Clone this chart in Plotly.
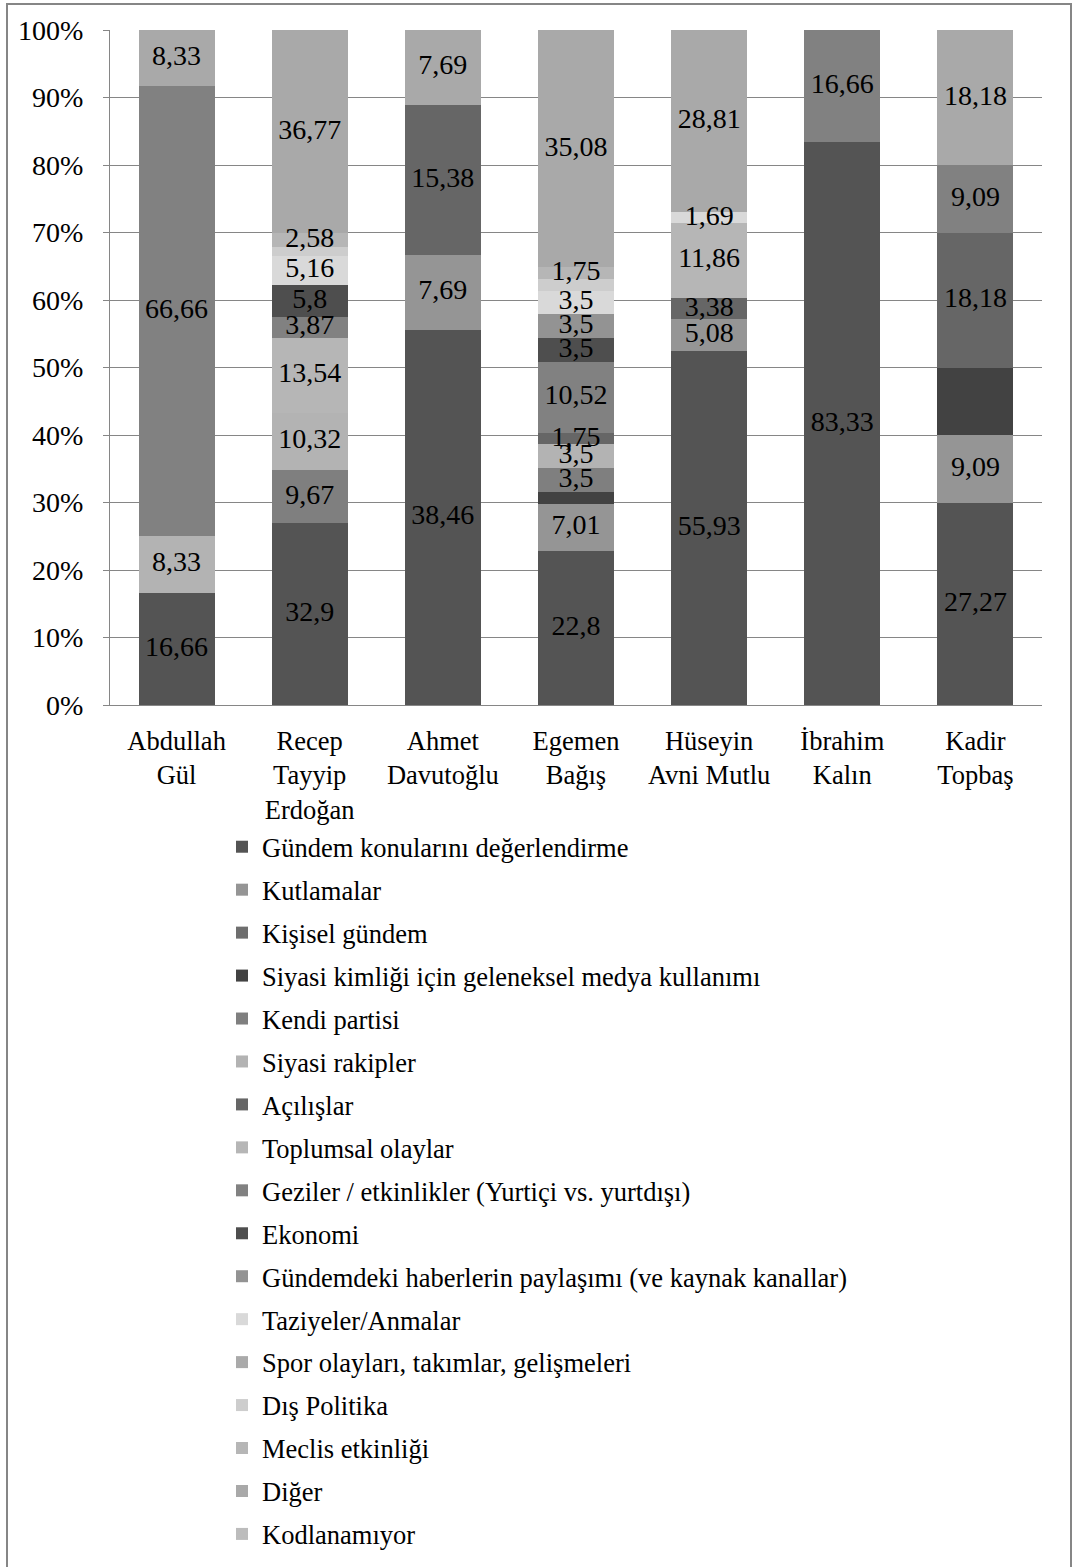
import plotly.graph_objects as go

categories = ["Abdullah<br>Gül", "Recep<br>Tayyip<br>Erdoğan", "Ahmet<br>Davutoğlu",
              "Egemen<br>Bağış", "Hüseyin<br>Avni Mutlu", "İbrahim<br>Kalın", "Kadir<br>Topbaş"]

series_names = [
    "Gündem konularını değerlendirme",
    "Kutlamalar",
    "Kişisel gündem",
    "Siyasi kimliği için geleneksel medya kullanımı",
    "Kendi partisi",
    "Siyasi rakipler",
    "Açılışlar",
    "Toplumsal olaylar",
    "Geziler / etkinlikler (Yurtiçi vs. yurtdışı)",
    "Ekonomi",
    "Gündemdeki haberlerin paylaşımı (ve kaynak kanallar)",
    "Taziyeler/Anmalar",
    "Spor olayları, takımlar, gelişmeleri",
    "Dış Politika",
    "Meclis etkinliği",
    "Diğer",
    "Kodlanamıyor",
]

gundem = [16.66, 32.9, 38.46, 22.8, 55.93, 83.33, 27.27]
kutlamalar = [0, 0, 7.69, 7.01, 5.08, 0, 9.09]
kisisel = [0, 0, 0, 0, 0, 0, 0]
siyasi_kimlik = [0, 0, 0, 1.75, 0, 0, 9.09]
kendi_partisi = [0, 9.67, 0, 3.5, 0, 0, 0]
siyasi_rakipler = [8.33, 10.32, 0, 3.5, 0, 0, 0]
acilislar = [0, 0, 15.38, 1.75, 3.38, 0, 18.18]
toplumsal = [0, 13.54, 0, 0, 11.86, 0, 0]
geziler = [66.66, 3.87, 0, 10.52, 0, 16.66, 9.09]
ekonomi = [0, 5.8, 0, 3.5, 0, 0, 0]
haberler = [0, 0, 0, 3.5, 0, 0, 0]
taziyeler = [0, 5.16, 0, 3.5, 1.69, 0, 0]
spor = [0, 0, 0, 0, 0, 0, 0]
dis_politika = [0, 1.6, 0, 1.75, 0, 0, 0]
meclis = [0, 2.58, 0, 1.75, 0, 0, 0]
diger = [8.33, 36.77, 7.69, 35.08, 28.81, 0, 18.18]
kodlanamiyor = [0, 0, 0, 0, 0, 0, 0]

series_values = [gundem, kutlamalar, kisisel, siyasi_kimlik, kendi_partisi, siyasi_rakipler,
                 acilislar, toplumsal, geziler, ekonomi, haberler, taziyeler, spor,
                 dis_politika, meclis, diger, kodlanamiyor]

colors = ["#545454", "#959595", "#6e6e6e", "#424242", "#7f7f7f", "#b3b3b3", "#666666",
          "#b6b6b6", "#818181", "#4e4e4e", "#939393", "#d9d9d9", "#aaaaaa", "#cdcdcd",
          "#b6b6b6", "#a9a9a9", "#bcbcbc"]

show_labels = [True, True, True, False, True, True, True, True, True, True, True, True,
               True, False, True, True, True]

FONT = "Liberation Serif"
FS_NUM = 28
FS_TXT = 26.5

fig = go.Figure()
for name, vals, col in zip(series_names, series_values, colors):
    yv = [v if v > 0 else None for v in vals]
    fig.add_trace(go.Bar(
        x=categories, y=yv, name=name, marker=dict(color=col, line=dict(width=0)),
        legendgroup=name, hoverinfo="skip",
    ))

# data labels, placed at the middle of each normalised stacked segment
totals = [sum(s[i] for s in series_values) for i in range(len(categories))]
cum = [0.0] * len(categories)
lx, ly, lt = [], [], []
for vals, lab in zip(series_values, show_labels):
    for i, v in enumerate(vals):
        if v > 0:
            if lab:
                lx.append(categories[i])
                ly.append((cum[i] + v / 2) / totals[i] * 100)
                lt.append(str(v).replace(".", ","))
            cum[i] += v

fig.add_trace(go.Scatter(
    x=lx, y=ly, text=lt, mode="text", textposition="middle center",
    textfont=dict(family=FONT, size=FS_NUM, color="black"),
    showlegend=False, hoverinfo="skip", cliponaxis=False,
))

W, H = 1075, 1567
L, R, T, B = 110, 1042, 30, 705
pw, ph = R - L, B - T

def px(x):
    return (x - L) / pw

def py(y):
    return (B - y) / ph

fig.update_layout(
    width=W, height=H,
    margin=dict(l=L, r=W - R, t=T, b=H - B, autoexpand=False),
    barmode="stack", barnorm="percent", bargap=0.43,
    paper_bgcolor="white", plot_bgcolor="white",
    font=dict(family=FONT, size=FS_TXT, color="black"),
    showlegend=True,
    legend=dict(xref="container", yref="container", x=222 / W, xanchor="left",
                y=1 - 823 / H, yanchor="top",
                traceorder="grouped", tracegroupgap=5.5,
                font=dict(family=FONT, size=FS_TXT, color="black"),
                bgcolor="rgba(0,0,0,0)", itemclick=False, itemdoubleclick=False),
    xaxis=dict(showline=True, linecolor="#868686", linewidth=1, ticks="",
               showgrid=False, ticklabelstandoff=12, automargin=False,
               tickfont=dict(family=FONT, size=FS_TXT, color="black")),
    yaxis=dict(range=[0, 100], dtick=10, ticksuffix="%", showline=True,
               linecolor="#868686", linewidth=1, ticks="outside", ticklen=6,
               tickcolor="#868686", showgrid=True, gridcolor="#868686", gridwidth=1,
               zeroline=False, ticklabelstandoff=14, automargin=False,
               tickfont=dict(family=FONT, size=FS_NUM, color="black")),
    shapes=[dict(type="rect", xref="paper", yref="paper",
                 x0=px(7), x1=px(1071), y0=py(4), y1=py(1620),
                 line=dict(color="#868686", width=2), fillcolor="rgba(0,0,0,0)")],
)

fig.write_html("out.html", config={"displayModeBar": False},
               post_script="document.body.style.margin='0px';")
